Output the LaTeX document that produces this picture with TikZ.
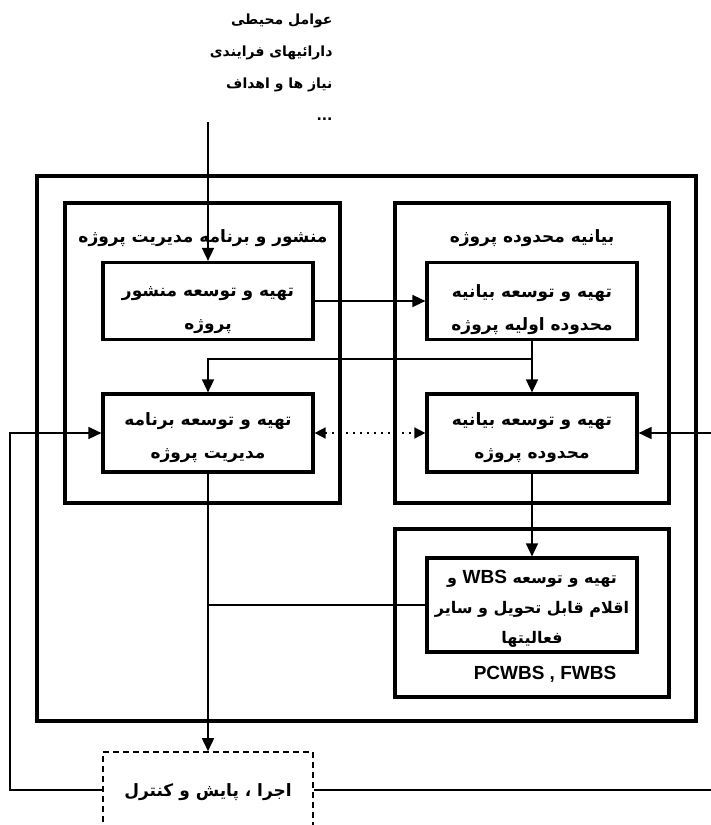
\documentclass[tikz,border=0pt]{standalone}
\usepackage{fontspec}
\TeXXeTstate=1
\newfontfamily\fa[Script=Arabic]{DejaVu Sans}
\newfontfamily\lat{Liberation Sans}
\usetikzlibrary{arrows.meta}
\begin{document}
\begin{tikzpicture}[x=1pt,y=-1pt,
  font=\fa\bfseries\fontsize{17}{33}\selectfont,
  grp/.style={draw, line width=3.2pt, inner sep=0pt},
  proc/.style={draw, fill=white, line width=3.2pt, align=center, inner sep=0pt},
  txt/.style={align=center, inner sep=0pt},
  conn/.style={line width=1.6pt},
  arr/.style={conn, -{Triangle[length=13pt,width=12pt]}},
  dotarr/.style={line width=1.6pt, dash pattern=on 2pt off 5pt, {Triangle[length=11pt,width=11pt]}-{Triangle[length=11pt,width=11pt]}},
  dbox/.style={draw, fill=white, line width=1.6pt, dash pattern=on 6pt off 4pt, align=center, inner sep=0pt},
  wbs/.style={font=\lat\bfseries\fontsize{19}{22}\selectfont}]
\useasboundingbox (0,0) rectangle (710,825);
% group frames
\node[grp, minimum width=659pt, minimum height=545pt] (outer) at (366.5,448.5) {};
\node[grp, minimum width=275pt, minimum height=300pt] (gl) at (202.5,353) {};
\node[grp, minimum width=274pt, minimum height=300pt] (gr) at (532,353) {};
\node[grp, minimum width=274pt, minimum height=168pt] (gb) at (532,613) {};
% titles
\node (tl) at (203,238) {\beginR منشور و برنامه مدیریت پروژه\endR};
\node (tr) at (532,238) {\beginR بیانیه محدوده پروژه\endR};
\node[wbs] (tb) at (545,674) {PCWBS , FWBS};
% top inputs
\node[anchor=north east, align=right, font=\fa\bfseries\fontsize{14}{32}\selectfont] (inp) at (336,10) {\beginR عوامل محیطی\endR\\\beginR دارائیهای فرایندی\endR\\\beginR نیاز ها و اهداف\endR\\...};
\coordinate (src) at (208,122);
% process boxes
\node[proc, minimum width=210pt, minimum height=77pt,
  label={[txt, yshift=-9pt]center:{\beginR تهیه و توسعه منشور\endR\\\beginR پروژه\endR}}] (A) at (208,301) {};
\node[proc, minimum width=210pt, minimum height=77pt,
  label={[txt, yshift=-9pt]center:{\beginR تهیه و توسعه بیانیه\endR\\\beginR محدوده اولیه پروژه\endR}}] (B) at (532,301) {};
\node[proc, minimum width=210pt, minimum height=78pt,
  label={[txt, yshift=-5pt]center:{\beginR تهیه و توسعه برنامه\endR\\\beginR مدیریت پروژه\endR}}] (C) at (208,433) {};
\node[proc, minimum width=210pt, minimum height=78pt,
  label={[txt, yshift=-5pt]center:{\beginR تهیه و توسعه بیانیه\endR\\\beginR محدوده پروژه\endR}}] (D) at (532,433) {};
\node[proc, minimum width=210pt, minimum height=94pt,
  label={[txt, yshift=-4pt, font=\fa\bfseries\fontsize{16}{30}\selectfont]center:{\beginR تهیه و توسعه \beginL{\lat\bfseries\fontsize{19}{22}\selectfont WBS}\endL{} و\endR\\\beginR اقلام قابل تحویل و سایر\endR\\\beginR فعالیتها\endR}}] (E) at (532,605) {};
\node[dbox, minimum width=210pt, minimum height=76pt,
  label={[txt, yshift=-2pt]center:{\beginR اجرا ، پایش و کنترل\endR}}] (F) at (208,790) {};
% connectors
\coordinate (J) at (532,359);
\coordinate (lf) at (10,0);
\coordinate (rf) at (714,0);
\draw[arr] (src) -- (A.north);
\draw[arr] (A.east) -- (B.west);
\draw[arr] (B.south) -- (D.north);
\draw[arr] (J) -| (C.north);
\draw[dotarr] (C.east) -- (D.west);
\draw[arr] (D.south) -- (E.north);
\draw[arr] (C.south) -- (F.north);
\draw[conn] (E.west) -- (E.west -| C.south);
\draw[arr] (F.west) -- (F.west -| lf) -- (C.west -| lf) -- (C.west);
\draw[arr] (F.east) -- (F.east -| rf) -- (D.east -| rf) -- (D.east);
\end{tikzpicture}
\end{document}
